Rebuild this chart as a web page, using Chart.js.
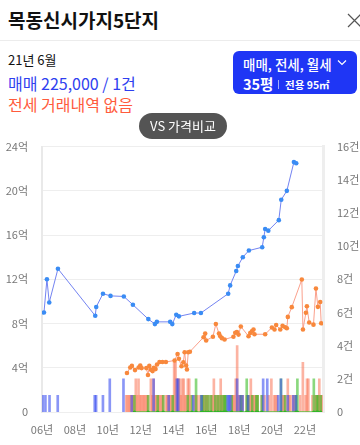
<!DOCTYPE html>
<html><head><meta charset="utf-8">
<script src="https://cdn.jsdelivr.net/npm/chart.js@4.4.1/dist/chart.umd.min.js"></script>
<style>
html,body{margin:0;padding:0;background:#fff;width:360px;height:445px;overflow:hidden;font-family:'Noto Sans CJK KR','Noto Sans',sans-serif;}
.abs{position:absolute;white-space:nowrap;}
#wrap{position:absolute;left:0;top:126px;width:360px;height:319px;}
</style></head><body>
<div class="abs" style="left:8px;top:6px;font-size:19px;font-weight:700;color:#111;line-height:28px;">목동신시가지5단지</div>
<svg class="abs" style="left:347px;top:13px" width="16" height="15"><path d="M1 1L14 14M14 1L1 14" stroke="#555" stroke-width="1.2" fill="none"/></svg>
<div class="abs" style="left:0;top:40px;width:360px;height:1px;background:#ececec"></div>
<div class="abs" style="left:8px;top:51px;font-size:13px;color:#111;line-height:18px">21년 6월</div>
<div class="abs" style="left:8px;top:72px;font-size:16px;color:#2f3ff0;line-height:22px">매매 225,000 / 1건</div>
<div class="abs" style="left:8px;top:93px;font-size:16px;color:#ff5b3d;line-height:22px">전세 거래내역 없음</div>
<div class="abs" style="left:233px;top:51px;width:124px;height:43px;border-radius:6px;background:#1f36f5"></div>
<div class="abs" style="left:243px;top:55px;font-size:13.5px;font-weight:500;color:#fff;line-height:18px">매매, 전세, 월세</div>
<svg class="abs" style="left:337px;top:59px" width="10" height="8"><path d="M1 1.5L5 5.5L9 1.5" stroke="#fff" stroke-width="1.2" fill="none"/></svg>
<div class="abs" style="left:243px;top:75px;font-size:14.5px;font-weight:700;color:#fff;line-height:18px">35평</div>
<div class="abs" style="left:278px;top:80px;width:1px;height:9px;background:rgba(255,255,255,0.6)"></div>
<div class="abs" style="left:285px;top:77px;font-size:10.5px;font-weight:700;color:#fff;line-height:15px">전용 95㎡</div>
<div id="wrap"><canvas id="c"></canvas></div>
<div class="abs" style="left:139px;top:113px;width:88px;height:26px;border-radius:13px;background:#545454;color:#fff;font-size:13px;line-height:26px;text-align:center">VS 가격비교</div>
<script>
// x-axis ticks
const tickYears = [2006, 2008, 2010, 2012, 2014, 2016, 2018, 2020, 2022];
const tickLabels = ['06년', '08년', '10년', '12년', '14년', '16년', '18년', '20년', '22년'];

// 매매 price line (year, 억)
const saleX = [2006.12, 2006.30, 2006.44, 2006.97, 2009.24, 2009.30, 2009.71, 2010.17, 2010.98, 2011.53,
  2012.47, 2012.87, 2012.99, 2013.80, 2013.93, 2014.17, 2014.33, 2015.26, 2015.67, 2017.33,
  2017.45, 2017.82, 2017.92, 2018.22, 2018.59, 2019.40, 2019.50, 2019.58, 2019.77, 2020.41,
  2020.56, 2020.90, 2021.33, 2021.47];
const saleY = [9.0, 12.0, 9.9, 12.95, 8.7, 9.5, 10.7, 10.5, 10.45, 9.7,
  8.4, 7.95, 8.15, 8.15, 7.95, 8.8, 8.65, 8.95, 8.95, 10.7,
  11.45, 12.75, 13.2, 14.0, 14.6, 14.9, 15.8, 16.55, 16.4, 17.35,
  19.2, 20.0, 22.6, 22.5];

// 전세 price line (year, 억)
const jeonseX = [2011.17, 2011.37, 2011.47, 2011.66, 2011.88, 2011.98, 2012.06, 2012.35, 2012.45, 2012.53,
  2012.63, 2012.73, 2012.81, 2012.91, 2013.00, 2013.15, 2013.33, 2013.54, 2014.07, 2014.25,
  2014.33, 2014.49, 2014.60, 2014.68, 2014.77, 2014.82, 2014.90, 2015.00, 2015.83, 2015.93,
  2015.99, 2016.40, 2016.58, 2016.77, 2016.85, 2016.95, 2017.11, 2017.65, 2017.76, 2017.86,
  2017.96, 2018.10, 2018.57, 2018.67, 2018.77, 2018.87, 2018.93, 2019.58, 2019.99, 2020.15,
  2020.25, 2020.50, 2020.64, 2020.80, 2020.90, 2020.96, 2021.20, 2021.81, 2021.88, 2022.06,
  2022.12, 2022.26, 2022.52, 2022.67, 2022.79, 2022.93, 2022.99];
const jeonseY = [3.53, 4.02, 4.17, 3.79, 4.02, 4.2, 3.97, 3.97, 3.35, 4.17,
  3.82, 3.7, 4.0, 3.88, 4.29, 4.52, 4.52, 4.52, 4.66, 5.25,
  4.81, 4.14, 4.5, 5.4, 4.2, 3.85, 5.4, 5.45, 6.76, 7.09,
  6.47, 6.8, 7.96, 7.09, 6.85, 6.68, 6.56, 6.8, 7.17, 7.23,
  7.0, 7.73, 6.85, 7.15, 7.29, 7.46, 7.03, 7.03, 7.64, 7.46,
  7.87, 7.46, 7.79, 7.67, 7.58, 8.6, 9.48, 11.98, 7.46, 8.98,
  9.56, 8.1, 7.9, 11.17, 9.51, 9.95, 8.02];

// monthly trade counts, Jan 2006 .. Jan 2023 (one row per year)
const countStartYear = 2006;
const saleCount = [
  1,0,1,0,0,1,0,0,0,0,0,1, // 2006
  0,0,0,0,0,0,0,0,0,0,0,0, // 2007
  0,0,0,0,0,0,0,0,0,0,0,0, // 2008
  0,0,1,1,0,0,0,0,1,0,0,0, // 2009
  0,2,0,0,0,0,0,0,0,0,0,2, // 2010
  0,0,0,0,0,1,0,0,0,0,0,0, // 2011
  0,0,0,0,0,0,0,0,0,2,0,0, // 2012
  0,0,0,0,0,0,0,0,1,0,0,0, // 2013
  0,0,2,2,0,0,0,0,0,0,0,0, // 2014
  0,0,1,0,0,0,0,0,1,0,0,0, // 2015
  0,0,0,0,0,0,0,0,0,0,0,0, // 2016
  0,0,0,1,1,1,0,0,0,0,2,0, // 2017
  1,0,1,0,0,0,1,0,0,0,0,0, // 2018
  0,0,0,0,0,2,0,0,2,0,0,0, // 2019
  0,0,0,0,1,0,2,0,0,0,0,1, // 2020
  0,0,0,1,0,1,0,0,0,0,0,0, // 2021
  0,0,0,0,0,0,0,0,0,0,0,0, // 2022
  0                        // 2023
];
const jeonseCount = [
  0,0,0,0,0,0,0,0,0,0,0,0, // 2006
  0,0,0,0,0,0,0,0,0,0,0,0, // 2007
  0,0,0,0,0,0,0,0,0,0,0,0, // 2008
  0,0,0,0,0,0,0,0,0,0,0,0, // 2009
  0,0,0,0,0,0,0,0,0,0,0,0, // 2010
  0,1,1,1,1,1,1,1,2,1,2,1, // 2011
  1,1,1,1,1,1,0,2,1,2,1,1, // 2012
  1,1,1,1,1,0,1,1,1,1,1,1, // 2013
  3,3,2,2,2,1,2,2,1,1,2,2, // 2014
  1,0,0,1,1,1,0,1,0,1,1,1, // 2015
  1,1,0,1,1,2,1,1,1,1,2,1, // 2016
  1,1,0,0,0,0,1,1,1,2,4,1, // 2017
  1,1,1,0,0,1,1,1,2,1,1,1, // 2018
  1,1,0,0,1,0,1,0,0,1,0,2, // 2019
  0,1,1,1,0,0,0,1,1,1,0,2, // 2020
  1,1,0,1,1,0,0,0,1,0,3,0, // 2021
  1,2,2,0,0,1,0,1,1,1,2,1, // 2022
  1                        // 2023
];
const wolseCount = [
  0,0,0,0,0,0,0,0,0,0,0,0, // 2006
  0,0,0,0,0,0,0,0,0,0,0,0, // 2007
  0,0,0,0,0,0,0,0,0,0,0,0, // 2008
  0,0,0,0,0,0,0,0,0,0,0,0, // 2009
  0,0,0,0,0,0,0,0,0,0,0,0, // 2010
  0,0,0,0,0,0,0,1,0,0,0,0, // 2011
  0,0,0,0,0,1,0,0,0,0,0,0, // 2012
  1,0,0,0,1,0,0,0,0,0,0,1, // 2013
  0,0,0,0,0,0,0,0,0,0,1,0, // 2014
  0,1,0,0,2,0,0,0,1,1,0,1, // 2015
  0,1,0,1,0,0,1,0,1,0,1,0, // 2016
  1,1,1,0,0,0,1,0,0,0,0,0, // 2017
  0,1,0,0,0,2,1,0,0,1,0,0, // 2018
  1,1,0,0,1,0,0,0,0,0,0,0, // 2019
  0,0,0,0,0,0,2,0,0,1,0,0, // 2020
  0,0,0,0,0,1,2,0,0,0,0,0, // 2021
  0,0,0,0,0,0,2,0,1,1,0,1, // 2022
  0                        // 2023
];

function toPoints(xs, ys) { return xs.map((x, i) => ({ x: x, y: ys[i] })); }
function toBars(counts) {
  const out = [];
  counts.forEach((c, i) => { if (c > 0) out.push({ x: countStartYear + (i + 0.5) / 12, y: c }); });
  return out;
}
function toBaseLine(counts) {
  const out = [];
  counts.forEach((c, i) => { if (c > 0) out.push({ x: countStartYear + (i + 0.5) / 12, y: 0 }); });
  return out;
}

const tickFont = { family: "'Noto Sans CJK KR','Noto Sans',sans-serif", size: 11 };
const tickColor = '#777';

new Chart(document.getElementById('c'), {
  type: 'line',
  data: {
    datasets: [
      { type: 'line', data: toPoints(saleX, saleY), borderColor: 'rgba(100,118,240,0.9)', borderWidth: 1,
        pointRadius: 2.3, pointBackgroundColor: '#3a8cf4', pointBorderWidth: 0, tension: 0, yAxisID: 'y', order: 0 },
      { type: 'line', data: toPoints(jeonseX, jeonseY), borderColor: 'rgba(250,150,128,0.9)', borderWidth: 1,
        pointRadius: 2.3, pointBackgroundColor: '#f8883c', pointBorderWidth: 0, tension: 0, yAxisID: 'y', order: 0 },
      { type: 'line', data: toBaseLine(wolseCount), borderColor: 'rgba(80,195,60,0.9)', borderWidth: 1.5,
        pointRadius: 1.6, pointBackgroundColor: '#2fb526', pointBorderWidth: 0, tension: 0, yAxisID: 'y', order: 0 },
      { type: 'bar', data: toBars(saleCount), backgroundColor: 'rgba(60,80,240,0.6)', barThickness: 2,
        grouped: false, yAxisID: 'y1', order: 1 },
      { type: 'bar', data: toBars(wolseCount), backgroundColor: 'rgba(60,190,40,0.6)', barThickness: 2,
        grouped: false, yAxisID: 'y1', order: 2 },
      { type: 'bar', data: toBars(jeonseCount), backgroundColor: 'rgba(250,128,100,0.6)', barThickness: 2,
        grouped: false, yAxisID: 'y1', order: 3 }
    ]
  },
  options: {
    responsive: true, maintainAspectRatio: false, animation: false,
    layout: { padding: { top: 10, left: 0, right: 0, bottom: 0 } },
    plugins: { legend: { display: false }, tooltip: { enabled: false } },
    scales: {
      x: {
        type: 'linear', min: 2006, max: 2023.1, offset: false,
        grid: { display: false, drawTicks: false }, border: { display: false },
        afterBuildTicks: s => { s.ticks = tickYears.map(v => ({ value: v })); },
        afterFit: s => { s.height = 33; },
        ticks: { callback: (v, i) => tickLabels[i], color: tickColor, font: tickFont, padding: 11, maxRotation: 0, autoSkip: false }
      },
      y: {
        position: 'left', min: 0, max: 24,
        afterFit: s => { s.width = 42; },
        ticks: { stepSize: 4, callback: v => v === 0 ? '0' : v + '억', color: tickColor, font: tickFont, padding: 14 },
        grid: { color: '#eeeeee', drawTicks: false }, border: { color: '#e9e9e9', width: 2 }
      },
      y1: {
        position: 'right', min: 0, max: 16,
        afterFit: s => { s.width = 37; },
        ticks: { stepSize: 2, callback: v => v === 0 ? '0' : v + '건', color: tickColor, font: tickFont, padding: 14 },
        grid: { display: false, drawTicks: false }, border: { color: '#eeeeee', width: 3 }
      }
    }
  }
});
</script>
</body></html>
